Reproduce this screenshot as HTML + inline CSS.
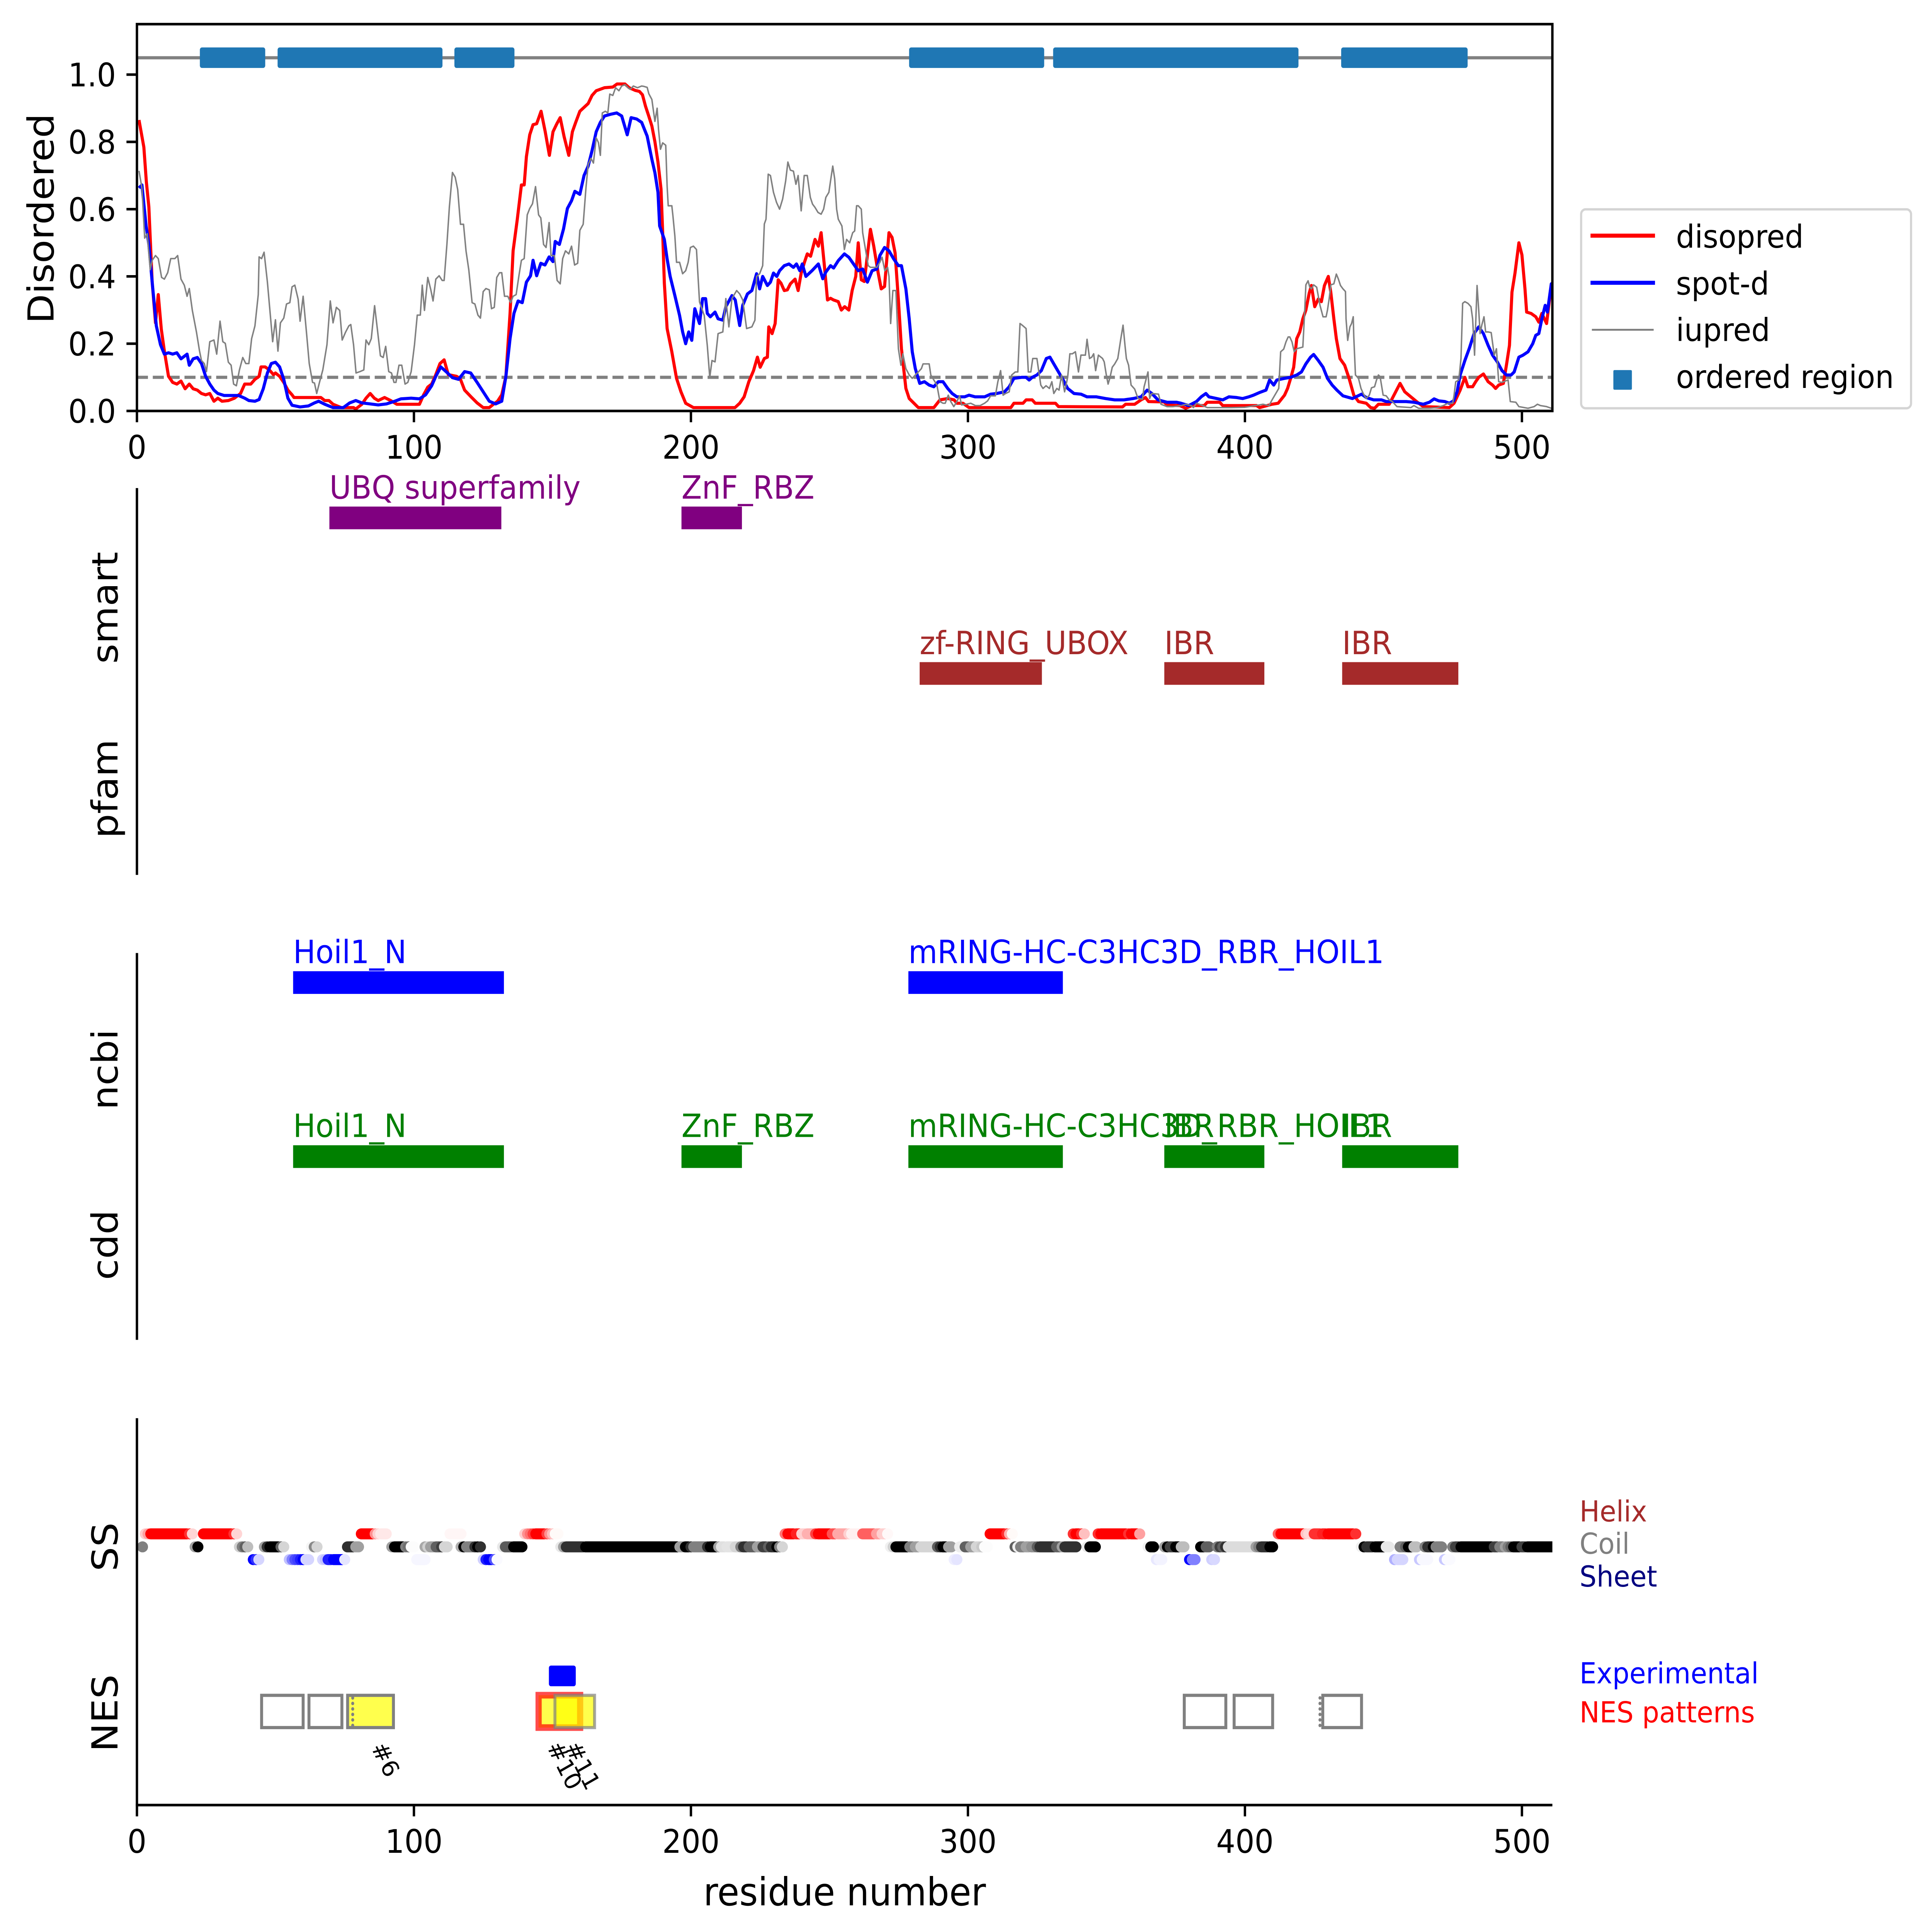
<!DOCTYPE html>
<html><head><meta charset="utf-8"><style>
html,body{margin:0;padding:0;background:#fff;overflow:hidden}
svg{display:block;position:absolute;left:0;top:0;width:100vw;height:100vh}
text{font-family:"DejaVu Sans","Liberation Sans",sans-serif}
.c{fill:none;vector-effect:non-scaling-stroke;stroke-linejoin:round}
.cr{stroke-width:0.1599vw}
.cg{stroke-width:0.0765vw}
.ss path{fill:none;vector-effect:non-scaling-stroke;stroke-width:0.5702vw;stroke-linecap:round}
</style></head><body>
<svg xmlns="http://www.w3.org/2000/svg" viewBox="0 0 7191 6682" preserveAspectRatio="none">
<defs>
<clipPath id="ct"><rect x="509.7" y="83.5" width="5268.3" height="1337.9"/></clipPath>
<clipPath id="cs"><rect x="509.7" y="4905" width="5268.3" height="1338"/></clipPath>
</defs>
<rect width="7191" height="6682" fill="#fff"/>

<!-- ===== TOP PANEL ===== -->
<line x1="509.7" y1="199.8" x2="5778" y2="199.8" stroke="#808080" stroke-width="11"/>
<g fill="#1f77b4">
<rect x="743.9" y="164" width="243.3" height="71" rx="8"/>
<rect x="1033.2" y="164" width="613.7" height="71" rx="8"/>
<rect x="1691.3" y="164" width="223.5" height="71" rx="8"/>
<rect x="3383.7" y="164" width="502.8" height="71" rx="8"/>
<rect x="3919.8" y="164" width="913.2" height="71" rx="8"/>
<rect x="4991.9" y="164" width="470.7" height="71" rx="8"/>
</g>
<line x1="509.7" y1="1305" x2="5778" y2="1305" stroke="#808080" stroke-width="11" stroke-dasharray="41 18"/>

<g clip-path="url(#ct)"><g transform="matrix(10.31,0,0,-1163.4,509.7,1421.4)">
<polyline class="c cr" stroke="#ff0000" points="0.74,.865 2.5,.784 3.4,.681 4.3,.607 5.5,.383 6.7,.262 7.7,.346 8.8,.243 9.9,.178 11.4,.103 12.9,.085 14.4,.08 15.9,.089 17.4,.066 18.9,.08 20.3,.066 21.8,.062 23.3,.052 24.8,.048 26.3,.052 27.8,.029 29.2,.038 30.7,.029 33,.031 35.2,.038 37.4,.052 38.9,.08 41.1,.08 42.6,.094 44.1,.103 44.8,.131 46.3,.131 47.8,.122 49.3,.108 50,.113 51.5,.103 53,.085 54.5,.062 56,.048 56.7,.04 66.4,.04 67.8,.031 69.3,.031 70.8,.02 73.8,.01 78.2,.01 79,.006 81.2,.02 82.7,.038 84.2,.052 85.7,.038 87.1,.031 89.4,.04 91.6,.031 93.8,.02 102,.02 103.5,.048 105,.071 106.4,.08 107.9,.108 109.4,.141 110.9,.152 112.4,.108 115.4,.103 116.8,.094 118.3,.062 120.5,.043 122.8,.024 125,.01 127.2,.01 128.7,.02 130.2,.029 131.7,.048 133.2,.103 134.7,.29 135.8,.476 137.3,.569 138.8,.672 139.8,.672 140.6,.756 141.8,.821 143,.851 144.3,.854 145.9,.891 147.4,.83 148.9,.76 150.2,.83 151.6,.854 152.8,.872 154.2,.816 155.9,.76 157.2,.83 158.4,.858 159.9,.891 162.9,.914 164.3,.938 165.8,.952 168.8,.961 171.8,.963 173.3,.972 176.2,.972 177.7,.961 179.9,.953 181.4,.95 182.5,.94 183.6,.906 184.8,.876 185.9,.847 187,.8 188.1,.74 189.2,.66 189.8,.53 190.4,.38 191.4,.245 193.1,.176 194.8,.097 196.4,.057 198.1,.023 200.9,.01 215.9,.01 217.6,.023 219.2,.042 220.9,.087 222.6,.12 224,.16 225,.13 226.5,.156 227.6,.16 228.1,.25 229.3,.23 230.4,.26 231.5,.39 232.5,.38 233.7,.358 234.8,.36 235.9,.378 237.6,.392 238.7,.358 239.8,.41 240.9,.44 242,.467 243.2,.46 244.8,.51 246,.49 247,.53 248.2,.43 249.3,.33 250.4,.335 251.5,.33 253.2,.325 254.3,.3 255.5,.31 257,.3 258.2,.358 259.5,.4 260.4,.5 261.5,.39 262.6,.385 264.8,.54 266,.49 267.6,.41 268.7,.363 269.9,.37 271.5,.53 272.6,.516 273.7,.47 274.9,.33 276,.185 277.6,.067 278.8,.037 282.1,.01 287.7,.01 289.9,.033 292.7,.037 295,.033 296,.023 298.2,.023 300.4,.01 315.5,.01 316.6,.023 319.9,.023 321,.033 323.2,.033 324.3,.023 331.6,.023 332.7,.013 355.8,.012 356.9,.02 360.2,.02 362.5,.033 364.1,.04 365.2,.028 370.8,.027 372,.017 376.5,.016 378.6,.008 380.8,.016 385.3,.016 386.4,.026 390.9,.026 392,.016 404.2,.016 405.3,.01 409.8,.02 412,.023 414.3,.047 415.4,.067 416.5,.097 417.6,.13 418.7,.215 419.8,.235 420.9,.274 422,.3 423.2,.35 424,.373 425.2,.31 426.5,.333 427.6,.325 428.7,.373 430.1,.4 431,.353 432.1,.274 433,.215 434.3,.156 436,.136 437.6,.097 439.3,.047 441,.028 443.8,.023 445.4,.01 446.8,.008 448.2,.02 452.1,.02 453.8,.047 456,.082 457.7,.057 459.9,.042 462.1,.027 464.4,.013 473.8,.01 475.5,.023 477.7,.062 479.4,.1 480.5,.072 482.2,.072 483.3,.087 484.4,.1 486.1,.11 487.8,.087 489.4,.077 490.5,.067 491.6,.077 493.3,.082 494.4,.136 495.5,.195 496.4,.353 497.5,.41 498.9,.5 500,.464 501.1,.363 501.7,.294 503.3,.29 505,.28 506.1,.264 507.2,.29 508.9,.26 510.6,.373 511,.38"/>
<polyline class="c cr" stroke="#0000ff" points="0.74,.663 1.8,.672 3.3,.551 4.3,.495 5.5,.383 7,.253 8.5,.197 9.9,.169 11.4,.173 12.9,.169 14.4,.173 15.9,.155 18.1,.169 18.9,.136 20.3,.155 21.8,.159 23.3,.141 24.8,.103 26.3,.08 27.8,.062 29.2,.052 31.5,.046 36.7,.046 38.9,.038 40.4,.031 42.6,.029 44.1,.034 45.6,.066 47.1,.113 48.5,.141 50,.145 51.5,.131 53,.094 54.5,.038 56,.017 58.9,.012 61.9,.015 64.1,.024 65.6,.029 67.8,.02 70.8,.01 74.5,.01 76.8,.024 79,.031 81.2,.024 84.2,.021 87.1,.018 90.1,.021 93.1,.029 95.3,.036 99,.038 102,.036 104.2,.048 106.4,.075 107.9,.103 109.7,.131 111.6,.117 113.9,.099 116.1,.094 118.3,.117 120.5,.113 122.8,.085 125,.057 127.2,.029 129.5,.021 131.7,.029 133.2,.103 134.7,.215 136.1,.29 137.6,.327 139.1,.322 140.6,.383 142.1,.402 143,.448 144.3,.402 145.8,.439 147.3,.434 148.8,.458 150.2,.444 151,.504 152.5,.495 154,.541 155.4,.602 156.9,.625 158.1,.653 159.9,.644 161.4,.7 162.9,.728 164.3,.774 165.8,.83 167.3,.858 168.8,.877 171,.882 173.2,.886 175,.877 177,.821 178.4,.872 180.4,.868 182.2,.858 184.2,.817 185.9,.748 187,.708 188.1,.65 188.7,.55 190.4,.51 191.4,.452 192.5,.4 194.2,.343 195.9,.284 197,.235 198.1,.2 199.2,.235 200.3,.21 201.4,.304 203.1,.26 204.2,.334 205.3,.334 205.9,.29 207,.28 208.7,.294 209.8,.274 211.5,.27 212.6,.31 214.8,.343 216,.33 217.6,.254 218.7,.314 220.4,.348 222,.358 223.7,.408 224.8,.363 225.9,.4 227.6,.373 228.7,.383 229.8,.41 231,.4 232,.417 233.7,.432 235.4,.437 237,.427 238.1,.437 239.3,.417 240.2,.437 241.5,.4 243.7,.417 246,.437 247.6,.393 248.7,.413 250.4,.432 251.5,.425 253.2,.447 255.4,.467 257,.457 258.7,.437 260.4,.417 262,.422 263.7,.383 265.4,.417 267.1,.422 268.2,.462 269.9,.486 271.5,.476 273.2,.452 274.9,.432 276,.432 277.6,.363 278.8,.274 279.9,.176 281,.126 282.6,.082 284.3,.087 286,.077 287.7,.072 289.3,.087 291,.087 292.7,.067 294.3,.052 296,.042 298.8,.042 300.4,.047 302.6,.042 306,.042 308.2,.05 310.4,.052 313.2,.057 314.9,.072 316.6,.097 319.4,.1 321,.1 322.1,.092 323.2,.1 324.9,.107 326.5,.12 328.3,.156 329.6,.16 331,.14 332.7,.116 334.4,.092 336,.067 338.3,.052 340.8,.05 343,.042 346.4,.042 349.7,.037 353,.033 356.3,.033 359.7,.037 362.5,.042 363.6,.052 364.7,.062 366.4,.052 368.6,.033 371.9,.026 375.3,.026 376.9,.023 379.7,.016 382.5,.028 384.2,.042 385.9,.052 387,.042 389.8,.037 392,.033 394.2,.042 397,.04 399.2,.037 401.4,.042 403.1,.047 405.3,.055 407.6,.062 408.9,.092 410.4,.077 411.5,.092 414.3,.097 416.5,.1 418.7,.107 420.4,.116 422,.14 423.7,.16 424.8,.168 426.5,.15 428.2,.13 429.8,.097 431.5,.077 433.2,.062 435.4,.045 438.8,.037 442.1,.05 443.8,.04 446.5,.033 449.3,.033 451,.028 458.2,.028 461,.026 464.4,.02 466.6,.026 468.3,.036 470,.03 472.2,.028 473.8,.023 475.3,.03 476.6,.057 477.7,.107 479.4,.15 481,.186 482.7,.23 484.4,.25 486.1,.23 487.8,.195 489.4,.166 491.1,.146 492.8,.12 494.4,.107 496.1,.107 497.2,.116 498.9,.16 500.4,.166 502.2,.176 503.9,.2 505,.225 506.1,.23 507.2,.274 508.4,.314 509.2,.294 510.6,.378 511,.38"/>
<polyline class="c cg" stroke="#808080" points="0.74,.714 1.8,.663 2.8,.514 3.7,.527 4.8,.42 5.5,.448 6.7,.462 7.7,.453 8.9,.397 9.9,.392 11.1,.411 12.2,.453 13.7,.453 14.7,.462 15.9,.392 17.1,.374 18.1,.341 18.9,.364 20,.299 21.5,.234 22.6,.178 23.3,.15 24.3,.141 25.1,.117 26.3,.206 27.8,.211 28.8,.169 30,.267 31,.206 31.9,.201 33,.145 34,.136 34.9,.08 35.9,.075 37,.122 38.2,.159 39.3,.141 40.4,.141 41.4,.215 42.6,.253 43.8,.346 44.1,.458 45,.453 45.9,.472 47.1,.383 48.1,.29 49,.206 50,.271 50.9,.178 51.8,.262 53,.276 54,.318 55.2,.322 56,.369 57,.374 58.2,.332 58.9,.267 60,.341 61.2,.234 62.2,.141 63.4,.085 64.1,.083 64.9,.052 65.9,.085 67.1,.122 68.6,.197 69.8,.327 70.8,.262 72,.308 73.2,.299 74.1,.211 75.3,.234 76.5,.253 77.2,.257 78.2,.197 79.1,.113 80.5,.117 81.9,.122 82.7,.211 83.7,.197 84.6,.215 85.8,.313 86.8,.243 87.9,.164 88.9,.159 89.8,.192 90.9,.117 91.9,.113 92.8,.085 93.5,.085 94.6,.136 95.6,.136 96.8,.08 97.8,.085 99,.117 100.2,.197 101.2,.285 102.3,.285 103,.374 103.8,.299 105,.397 106.1,.36 106.9,.327 107.9,.392 109.1,.402 110.2,.388 110.9,.388 111.9,.495 112.8,.607 113.9,.709 114.9,.695 115.8,.658 116.8,.555 117.9,.555 118.8,.476 119.8,.42 121,.322 122,.318 123.1,.285 124,.276 125,.355 126,.364 127.2,.36 128,.304 129,.308 129.9,.397 130.9,.411 131.7,.411 132.7,.341 133.9,.341 134.9,.322 135.8,.341 136.9,.346 137.9,.402 138.8,.448 139.8,.453 140.9,.583 141.8,.602 142.8,.616 143.9,.667 145,.583 145.8,.574 146.8,.495 147.7,.486 148.8,.56 149.5,.462 150.7,.462 151.7,.388 152.8,.378 153.7,.453 154.7,.476 155.9,.467 156.9,.49 158,.434 159.1,.439 159.9,.537 161.1,.555 162.1,.663 162.9,.733 163.9,.751 164.8,.737 165.8,.812 166.6,.798 167.3,.76 168,.886 169.1,.891 170,.886 170.7,.942 171.8,.938 172.8,.961 174,.952 175,.966 176.2,.97 177.3,.961 178.1,.956 179.2,.966 180.7,.961 182.2,.966 183,.965 184.2,.962 184.8,.943 185.9,.926 186.4,.896 187,.861 187.8,.9 188.3,.837 189,.778 189.8,.797 190.9,.79 191.4,.669 191.8,.61 193.1,.61 193.5,.58 194.2,.52 194.8,.442 195.9,.442 197,.408 198.1,.417 199,.442 199.8,.486 200.9,.49 202,.48 203.1,.324 204.8,.284 205.9,.195 206.8,.1 207.6,.15 208.7,.146 209.8,.23 211.5,.235 212.6,.334 213.7,.25 214.8,.334 216.5,.358 217.6,.348 218.7,.33 220.1,.245 222,.25 223.1,.27 223.7,.4 224.8,.408 225.9,.432 226.5,.556 227.1,.57 227.9,.704 228.7,.7 229.8,.65 230.9,.62 232,.6 233.1,.63 234.2,.684 235,.74 235.9,.716 237,.713 237.9,.674 238.7,.7 239.8,.595 240.9,.7 242,.7 243.1,.635 243.9,.615 244.8,.605 245.9,.59 247,.585 247.9,.6 248.7,.635 249.8,.65 250.4,.684 251.2,.728 251.9,.69 252.6,.6 253.2,.57 254.5,.55 255.4,.48 256.2,.51 257.3,.5 258.4,.53 259.1,.535 259.8,.61 260.4,.61 261.5,.6 262,.53 263.1,.476 264,.432 264.8,.427 267.1,.427 268.2,.442 269,.457 270,.417 271,.427 271.5,.4 272.1,.26 272.9,.358 274,.358 274.9,.185 275.8,.136 276.5,.17 277.6,.126 278.8,.107 279.9,.097 281,.107 282.1,.116 283.2,.126 283.8,.14 286,.14 286.6,.107 287.7,.092 288.8,.077 289.9,.028 291,.023 291.8,.023 292.9,.047 293.8,.028 294.9,.013 296,.028 297,.045 297.7,.018 299.3,.02 301,.023 302.7,.016 304.4,.016 306,.023 307.1,.03 308.2,.045 309.9,.045 310.8,.087 311.8,.12 312.7,.047 313.6,.052 314.9,.057 315.8,.107 317.1,.116 318,.116 318.8,.26 319.6,.255 321,.245 321.8,.116 322.7,.116 323.4,.156 324.9,.156 326.3,.077 327.1,.067 328.2,.075 329.4,.067 330.3,.087 331,.052 332.1,.067 332.9,.062 333.8,.107 334.9,.057 336,.1 336.8,.17 337.7,.17 338.8,.176 339.9,.116 340.8,.166 342.4,.166 343,.213 343.9,.156 344.7,.16 345.4,.17 346.1,.12 347.1,.166 348.6,.156 349.2,.146 349.9,.11 350.6,.08 351.3,.1 352.1,.13 353,.14 354.1,.156 355.2,.215 356,.255 356.7,.195 357.2,.156 358,.136 358.9,.077 360.2,.065 361.4,.037 363,.035 363.6,.072 364.4,.097 365,.116 365.6,.037 366.4,.052 368.8,.05 369.7,.02 371.9,.013 374.1,.013 377,.016 378.6,.02 380.6,.016 381.4,.01 382.5,.023 384.2,.018 386.4,.01 395,.01 400,.011 405.3,.018 406.5,.02 408.7,.016 409.8,.033 411.5,.057 412.2,.067 412.9,.176 414,.184 414.8,.205 415.6,.22 416.2,.22 417,.205 417.8,.176 418.7,.185 420.9,.19 421.5,.284 422,.375 422.8,.387 423.4,.368 424,.363 424.8,.375 425.9,.368 427.1,.314 428.2,.28 429.3,.28 429.8,.3 430.4,.333 431,.375 432.1,.378 433,.407 433.7,.393 434.5,.373 435.4,.363 436.3,.355 436.5,.274 437.1,.21 437.9,.25 438.5,.26 439.1,.28 439.3,.22 439.9,.107 441,.097 441.9,.067 442.7,.052 443.8,.037 444.9,.047 445.7,.069 446.8,.072 447.5,.092 448.2,.107 448.8,.102 449.9,.047 451,.045 452.1,.033 453.2,.028 454.9,.013 459.9,.01 461,.016 462.7,.008 466.6,.008 469.4,.01 471.6,.016 473.3,.023 475,.023 475.5,.047 476.1,.087 477.2,.092 478,.156 478.6,.32 479.4,.325 480.5,.32 481.6,.31 482.2,.274 482.9,.166 483.8,.373 484.4,.3 484.9,.23 485.5,.255 486.3,.28 486.9,.235 487.8,.235 488.9,.233 490,.166 490.8,.185 491.6,.087 492.7,.085 495,.092 495.8,.028 497.8,.026 498.9,.013 502.2,.008 504.4,.013 505.6,.02 506.7,.016 508.9,.013 510.6,.008"/>
</g></g>

<rect x="509.7" y="83.5" width="5268.3" height="1337.9" fill="none" stroke="#000" stroke-width="8.9"/>
<g stroke="#000" stroke-width="8.9">
<path d="M509.7 1421.4v39M1540.7 1421.4v39M2571.7 1421.4v39M3602.7 1421.4v39M4633.7 1421.4v39M5664.7 1421.4v39"/>
<path d="M509.7 1421.4h-39M509.7 1188.7h-39M509.7 956h-39M509.7 723.4h-39M509.7 490.7h-39M509.7 258h-39"/>
</g>
<g font-size="112" text-anchor="middle" fill="#000">
<text x="509.7" y="1586">0</text><text x="1540.7" y="1586">100</text><text x="2571.7" y="1586">200</text><text x="3602.7" y="1586">300</text><text x="4633.7" y="1586">400</text><text x="5664.7" y="1586">500</text>
</g>
<g font-size="112" text-anchor="end" fill="#000">
<text x="431.7" y="1462.2">0.0</text><text x="431.7" y="1229.5">0.2</text><text x="431.7" y="996.8">0.4</text><text x="431.7" y="764.2">0.6</text><text x="431.7" y="531.5">0.8</text><text x="431.7" y="298.8">1.0</text>
</g>
<text transform="translate(199,756) rotate(-90)" font-size="133" text-anchor="middle">Disordered</text>

<!-- legend -->
<rect x="5885" y="724" width="1228" height="688" rx="17" fill="#fff" stroke="#d4d4d4" stroke-width="8"/>
<line x1="5920" y1="815" x2="6160" y2="815" stroke="#ff0000" stroke-width="14"/>
<line x1="5920" y1="978" x2="6160" y2="978" stroke="#0000ff" stroke-width="14"/>
<line x1="5925" y1="1140.6" x2="6155" y2="1140.6" stroke="#808080" stroke-width="6.5"/>
<rect x="6005" y="1280" width="69" height="68" rx="4" fill="#1f77b4"/>
<g font-size="110" fill="#000">
<text x="6238" y="856.5">disopred</text>
<text x="6238" y="1019">spot-d</text>
<text x="6238" y="1179.6">iupred</text>
<text x="6238" y="1342">ordered region</text>
</g>

<!-- ===== PANEL 2 (smart / pfam) ===== -->
<line x1="509.7" y1="1688" x2="509.7" y2="3026" stroke="#000" stroke-width="8.9"/>
<text transform="translate(437.5,2102) rotate(-90)" font-size="133" text-anchor="middle">smart</text>
<text transform="translate(437.5,2728) rotate(-90)" font-size="133" text-anchor="middle">pfam</text>
<g fill="#800080">
<rect x="1226" y="1752" width="640" height="78.5"/>
<rect x="2536.5" y="1752" width="225" height="78.5"/>
<text x="1226" y="1724.5" font-size="111">UBQ superfamily</text>
<text x="2536.5" y="1724.5" font-size="111">ZnF_RBZ</text>
</g>
<g fill="#a52a2a">
<rect x="3423" y="2290" width="455" height="78.5"/>
<rect x="4333.6" y="2290" width="372.4" height="78.5"/>
<rect x="4995.6" y="2290" width="432.4" height="78.5"/>
<text x="3423" y="2262.5" font-size="111">zf-RING_UBOX</text>
<text x="4333.6" y="2262.5" font-size="111">IBR</text>
<text x="4995.6" y="2262.5" font-size="111">IBR</text>
</g>

<!-- ===== PANEL 3 (ncbi / cdd) ===== -->
<line x1="509.7" y1="3296" x2="509.7" y2="4634" stroke="#000" stroke-width="8.9"/>
<text transform="translate(437.5,3699) rotate(-90)" font-size="133" text-anchor="middle">ncbi</text>
<text transform="translate(437.5,4306) rotate(-90)" font-size="133" text-anchor="middle">cdd</text>
<g fill="#0000ff">
<rect x="1091" y="3359" width="784.6" height="78.5"/>
<rect x="3381" y="3359" width="575" height="78.5"/>
<text x="1091" y="3331" font-size="111">Hoil1_N</text>
<text x="3381" y="3331" font-size="111">mRING-HC-C3HC3D_RBR_HOIL1</text>
</g>
<g fill="#008000">
<rect x="1091" y="3961" width="784.6" height="78.5"/>
<rect x="2536.5" y="3961" width="225" height="78.5"/>
<rect x="3381" y="3961" width="575" height="78.5"/>
<rect x="4333.6" y="3961" width="372.4" height="78.5"/>
<rect x="4995.6" y="3961" width="432.4" height="78.5"/>
<text x="1091" y="3932.5" font-size="111">Hoil1_N</text>
<text x="2536.5" y="3932.5" font-size="111">ZnF_RBZ</text>
<text x="3381" y="3932.5" font-size="111">mRING-HC-C3HC3D_RBR_HOIL1</text>
<text x="4333.6" y="3932.5" font-size="111">IBR</text>
<text x="4995.6" y="3932.5" font-size="111">IBR</text>
</g>

<!-- ===== PANEL 4 (SS / NES) ===== -->
<g clip-path="url(#cs)"><g class="ss" transform="matrix(10.31,0,0,1,509.7,0)">
<!-- helix -->
<path stroke="#ffcccc" d="M3 5305h.02"/><path stroke="#ffa0a0" d="M4 5305h.02"/><path stroke="#ff0000" d="M5 5305H18"/><path stroke="#ff3030" d="M19 5305h.02"/><path stroke="#ffd5d5" d="M20 5305h.02"/>
<path stroke="#ff0000" d="M24 5305H34"/><path stroke="#ff3030" d="M35 5305h.02"/><path stroke="#ffd5d5" d="M36 5305h.02"/>
<path stroke="#ff0000" d="M81 5305H85"/><path stroke="#ff9090" d="M86 5305h.02"/><path stroke="#ffd0d0" d="M87 5305h.02"/><path stroke="#ffe8e8" d="M88 5305H90"/>
<path stroke="#fff6f6" d="M113 5305H117"/>
<path stroke="#ffd0d0" d="M140 5305h.02"/><path stroke="#ff9090" d="M141 5305h.02"/><path stroke="#ff7070" d="M142 5305h.02"/><path stroke="#ff4040" d="M143 5305h.02"/><path stroke="#ff0000" d="M144 5305H147"/><path stroke="#ff4040" d="M148 5305h.02"/><path stroke="#ff9090" d="M149 5305h.02"/><path stroke="#ffc0c0" d="M150 5305h.02"/><path stroke="#fffaf8" d="M151 5305H152"/>
<path stroke="#ff7070" d="M234 5305h.02"/><path stroke="#ff0000" d="M235 5305H237"/><path stroke="#ff2020" d="M238 5305H239"/><path stroke="#ffd0d0" d="M240 5305H241"/><path stroke="#ffb0b0" d="M242 5305H244"/><path stroke="#ff4040" d="M245 5305h.02"/><path stroke="#ff0000" d="M246 5305H250"/><path stroke="#ff5050" d="M251 5305H252"/><path stroke="#ffa8a8" d="M253 5305H256"/><path stroke="#ffd0d0" d="M257 5305h.02"/><path stroke="#fff0f0" d="M258 5305H261"/><path stroke="#ff6060" d="M262 5305H266"/><path stroke="#ffa0a0" d="M267 5305H268"/><path stroke="#ffd0d0" d="M269 5305H270"/><path stroke="#fff8f8" d="M271 5305h.02"/>
<path stroke="#ff0000" d="M308 5305H313"/><path stroke="#ff3030" d="M314 5305h.02"/><path stroke="#ffb0b0" d="M315 5305h.02"/><path stroke="#fffaf8" d="M316 5305h.02"/>
<path stroke="#ff3030" d="M338 5305h.02"/><path stroke="#ff0000" d="M339 5305H340"/><path stroke="#ff3030" d="M341 5305h.02"/><path stroke="#ffc0c0" d="M342 5305h.02"/>
<path stroke="#ff3030" d="M347 5305h.02"/><path stroke="#ff0000" d="M348 5305H357"/><path stroke="#ff3030" d="M358 5305h.02"/><path stroke="#ff0000" d="M359 5305H361"/><path stroke="#ffa0a0" d="M362 5305h.02"/>
<path stroke="#ff6060" d="M412 5305h.02"/><path stroke="#ff0000" d="M413 5305H421"/><path stroke="#ffc0c0" d="M422 5305h.02"/><path stroke="#ffd5d5" d="M423 5305H424"/><path stroke="#ff3030" d="M425 5305H427"/><path stroke="#ff2020" d="M428 5305H429"/><path stroke="#ff0000" d="M430 5305H439"/><path stroke="#ff3030" d="M440 5305h.02"/>
<!-- coil -->
<path stroke="#808080" d="M2 5350h.02"/>
<path stroke="#a0a0a0" d="M21 5350h.02"/><path stroke="#000" d="M22 5350h.02"/>
<path stroke="#d0d0d0" d="M37 5350h.02"/><path stroke="#808080" d="M38 5350h.02"/><path stroke="#606060" d="M39 5350h.02"/><path stroke="#bdbdbd" d="M40 5350h.02"/>
<path stroke="#a0a0a0" d="M46 5350h.02"/><path stroke="#303030" d="M47 5350h.02"/><path stroke="#000" d="M48 5350H51"/><path stroke="#606060" d="M52 5350h.02"/><path stroke="#d5d5d5" d="M53 5350h.02"/>
<path stroke="#f5f5f5" d="M63 5350h.02"/><path stroke="#888888" d="M64 5350h.02"/><path stroke="#d5d5d5" d="M65 5350h.02"/>
<path stroke="#303030" d="M76 5350H78"/><path stroke="#a0a0a0" d="M79 5350H80"/>
<path stroke="#a0a0a0" d="M92 5350h.02"/><path stroke="#000" d="M93 5350H96"/><path stroke="#808080" d="M97 5350h.02"/><path stroke="#707070" d="M98 5350h.02"/><path stroke="#fcfcfc" d="M99 5350H100"/>
<path stroke="#a8a8a8" d="M104 5350h.02"/><path stroke="#d0d0d0" d="M105 5350h.02"/><path stroke="#a0a0a0" d="M106 5350H107"/><path stroke="#606060" d="M108 5350H109"/><path stroke="#404040" d="M110 5350h.02"/><path stroke="#d5d5d5" d="M111 5350H112"/>
<path stroke="#b0b0b0" d="M117 5350h.02"/><path stroke="#000" d="M118 5350h.02"/><path stroke="#808080" d="M119 5350H121"/><path stroke="#303030" d="M122 5350h.02"/><path stroke="#000" d="M123 5350h.02"/><path stroke="#303030" d="M124 5350h.02"/>
<path stroke="#e8e8e8" d="M132 5350h.02"/><path stroke="#5a5a5a" d="M133 5350H135"/><path stroke="#000" d="M136 5350H139"/>
<path stroke="#e8e8e8" d="M153 5350h.02"/><path stroke="#a0a0a0" d="M154 5350h.02"/><path stroke="#303030" d="M155 5350H161"/><path stroke="#000" d="M162 5350H195"/>
<path stroke="#a0a0a0" d="M196 5350H197"/><path stroke="#000" d="M198 5350H199"/><path stroke="#303030" d="M200 5350h.02"/><path stroke="#808080" d="M201 5350H205"/><path stroke="#303030" d="M206 5350h.02"/><path stroke="#000" d="M207 5350H209"/><path stroke="#a0a0a0" d="M210 5350h.02"/><path stroke="#e0e0e0" d="M211 5350H212"/><path stroke="#e4e4e4" d="M213 5350H215"/><path stroke="#d5d5d5" d="M216 5350H217"/><path stroke="#808080" d="M218 5350h.02"/><path stroke="#303030" d="M219 5350H220"/><path stroke="#606060" d="M221 5350H223"/><path stroke="#a0a0a0" d="M224 5350H225"/><path stroke="#404040" d="M226 5350H227"/><path stroke="#606060" d="M228 5350h.02"/><path stroke="#303030" d="M229 5350H230"/><path stroke="#000" d="M231 5350h.02"/><path stroke="#808080" d="M232 5350h.02"/><path stroke="#d5d5d5" d="M233 5350h.02"/>
<path stroke="#f0f0f0" d="M272 5350h.02"/><path stroke="#d0d0d0" d="M273 5350h.02"/><path stroke="#000" d="M274 5350H278"/><path stroke="#808080" d="M279 5350H280"/><path stroke="#a0a0a0" d="M281 5350H282"/><path stroke="#d5d5d5" d="M283 5350H288"/><path stroke="#606060" d="M289 5350h.02"/><path stroke="#303030" d="M290 5350h.02"/><path stroke="#000" d="M291 5350H292"/><path stroke="#a0a0a0" d="M293 5350H294"/>
<path stroke="#eeeeee" d="M297 5350H298"/><path stroke="#606060" d="M299 5350H300"/><path stroke="#a0a0a0" d="M301 5350H302"/><path stroke="#d5d5d5" d="M303 5350H304"/><path stroke="#c8c8c8" d="M305 5350h.02"/><path stroke="#fcfcfc" d="M306 5350H307"/>
<path stroke="#606060" d="M317 5350h.02"/><path stroke="#f0f0f0" d="M318 5350h.02"/><path stroke="#808080" d="M319 5350H320"/><path stroke="#a0a0a0" d="M321 5350H322"/><path stroke="#909090" d="M323 5350H324"/><path stroke="#606060" d="M325 5350h.02"/><path stroke="#303030" d="M326 5350H331"/><path stroke="#606060" d="M332 5350H333"/><path stroke="#a0a0a0" d="M334 5350h.02"/><path stroke="#303030" d="M335 5350H339"/>
<path stroke="#e8e8e8" d="M343 5350h.02"/><path stroke="#000" d="M344 5350H346"/>
<path stroke="#f0f0f0" d="M365 5350h.02"/><path stroke="#000" d="M366 5350H367"/>
<path stroke="#a0a0a0" d="M371 5350h.02"/><path stroke="#000" d="M372 5350h.02"/><path stroke="#404040" d="M373 5350H374"/><path stroke="#000" d="M375 5350H376"/><path stroke="#bdbdbd" d="M377 5350H378"/>
<path stroke="#000" d="M384 5350H385"/><path stroke="#606060" d="M386 5350H387"/>
<path stroke="#808080" d="M390 5350h.02"/><path stroke="#404040" d="M391 5350h.02"/><path stroke="#606060" d="M392 5350h.02"/><path stroke="#303030" d="M393 5350h.02"/><path stroke="#dcdcdc" d="M394 5350H403"/><path stroke="#a0a0a0" d="M404 5350h.02"/><path stroke="#808080" d="M405 5350h.02"/><path stroke="#303030" d="M406 5350H408"/><path stroke="#000" d="M409 5350H410"/>
<path stroke="#f0f0f0" d="M442 5350h.02"/><path stroke="#000" d="M443 5350h.02"/><path stroke="#303030" d="M444 5350H446"/><path stroke="#000" d="M447 5350H450"/><path stroke="#e8e8e8" d="M451 5350H452"/>
<path stroke="#808080" d="M456 5350H457"/><path stroke="#606060" d="M458 5350h.02"/><path stroke="#000" d="M459 5350H460"/><path stroke="#bdbdbd" d="M461 5350H462"/>
<path stroke="#808080" d="M465 5350h.02"/><path stroke="#303030" d="M466 5350H467"/><path stroke="#000" d="M468 5350h.02"/><path stroke="#808080" d="M469 5350H471"/>
<path stroke="#808080" d="M475 5350h.02"/><path stroke="#404040" d="M476 5350H477"/><path stroke="#000" d="M478 5350H489"/><path stroke="#404040" d="M490 5350H491"/><path stroke="#808080" d="M492 5350H493"/><path stroke="#a0a0a0" d="M494 5350h.02"/><path stroke="#808080" d="M495 5350h.02"/><path stroke="#606060" d="M496 5350h.02"/><path stroke="#000" d="M497 5350H499"/><path stroke="#404040" d="M500 5350H501"/><path stroke="#000" d="M502 5350H511"/>
<!-- sheet -->
<path stroke="#0000ff" d="M42 5394h.02"/><path stroke="#3030ff" d="M43 5394h.02"/><path stroke="#d5d5ff" d="M44 5394h.02"/>
<path stroke="#c0c0ff" d="M55 5394h.02"/><path stroke="#8080ff" d="M56 5394h.02"/><path stroke="#5050ff" d="M57 5394h.02"/><path stroke="#4040ff" d="M58 5394h.02"/><path stroke="#2020ff" d="M59 5394h.02"/><path stroke="#0000ff" d="M60 5394h.02"/><path stroke="#d5d5ff" d="M61 5394H62"/>
<path stroke="#d5d5ff" d="M67 5394h.02"/><path stroke="#c0c0ff" d="M68 5394h.02"/><path stroke="#2020ff" d="M69 5394H70"/><path stroke="#0000ff" d="M71 5394H74"/><path stroke="#e5e5ff" d="M75 5394h.02"/>
<path stroke="#f6f6ff" d="M101 5394H104"/>
<path stroke="#d0d0ff" d="M125 5394h.02"/><path stroke="#2020ff" d="M126 5394h.02"/><path stroke="#0000ff" d="M127 5394H128"/><path stroke="#5050ff" d="M129 5394h.02"/><path stroke="#fafaff" d="M130 5394h.02"/>
<path stroke="#eeeeff" d="M295 5394h.02"/><path stroke="#e5e5ff" d="M296 5394h.02"/>
<path stroke="#e8e8ff" d="M368 5394h.02"/><path stroke="#f3f3ff" d="M369 5394H370"/>
<path stroke="#0000ff" d="M380 5394h.02"/><path stroke="#8080ff" d="M381 5394H382"/>
<path stroke="#d0d0ff" d="M388 5394h.02"/><path stroke="#d8d8ff" d="M389 5394h.02"/>
<path stroke="#b0b0ff" d="M454 5394h.02"/><path stroke="#d5d5ff" d="M455 5394H457"/>
<path stroke="#c8c8ff" d="M463 5394h.02"/><path stroke="#f8f8ff" d="M464 5394H466"/>
<path stroke="#c8c8ff" d="M472 5394h.02"/><path stroke="#fafaff" d="M473 5394H474"/>
</g></g>

<!-- NES boxes -->
<g fill="none" stroke="#808080" stroke-width="11">
<rect x="973.7" y="5863.5" width="154.6" height="111.5" fill="#fff"/>
<rect x="1150" y="5863.5" width="122.6" height="111.5" fill="#fff"/>
<rect x="1293.8" y="5863.5" width="170.6" height="111.5" fill="#ffff4d"/>
<rect x="4407.9" y="5863.5" width="154.7" height="111.5"/>
<rect x="4593.5" y="5863.5" width="143.3" height="111.5"/>
<rect x="4923.4" y="5863.5" width="144.3" height="111.5"/>
</g>
<g stroke="#808080" stroke-width="11" stroke-linecap="round" stroke-dasharray="1 18">
<line x1="1312.8" y1="5872" x2="1312.8" y2="5968"/>
<line x1="4913" y1="5872" x2="4913" y2="5968"/>
</g>
<rect x="2004.7" y="5863" width="154.6" height="112" fill="rgba(255,255,0,0.7)" stroke="rgba(255,0,0,0.7)" stroke-width="23"/>
<rect x="2065.5" y="5863.5" width="147.5" height="111.5" fill="rgba(255,255,0,0.7)" stroke="rgba(128,128,128,0.7)" stroke-width="11"/>
<rect x="2043" y="5760.5" width="100" height="71.5" rx="8" fill="#0000ff"/>
<g font-size="84" fill="#000">
<text transform="translate(1380,6044) rotate(62)">#6</text>
<text transform="translate(2034,6041) rotate(62)">#10</text>
<text transform="translate(2101,6041) rotate(62)">#11</text>
</g>

<line x1="509.7" y1="4905" x2="509.7" y2="6243" stroke="#000" stroke-width="8.9"/>
<line x1="505.25" y1="6243" x2="5778" y2="6243" stroke="#000" stroke-width="8.9"/>
<g stroke="#000" stroke-width="8.9">
<path d="M509.7 6243v39M1540.7 6243v39M2571.7 6243v39M3602.7 6243v39M4633.7 6243v39M5664.7 6243v39"/>
</g>
<g font-size="112" text-anchor="middle" fill="#000">
<text x="509.7" y="6408">0</text><text x="1540.7" y="6408">100</text><text x="2571.7" y="6408">200</text><text x="3602.7" y="6408">300</text><text x="4633.7" y="6408">400</text><text x="5664.7" y="6408">500</text>
</g>
<text x="3143.9" y="6590" font-size="133" text-anchor="middle">residue number</text>
<text transform="translate(437.5,5350) rotate(-90)" font-size="133" text-anchor="middle">SS</text>
<text transform="translate(437.5,5925) rotate(-90)" font-size="133" text-anchor="middle">NES</text>

<g font-size="100">
<text x="5879" y="5262" fill="#a52a2a">Helix</text>
<text x="5879" y="5374" fill="#808080">Coil</text>
<text x="5879" y="5487" fill="#000080">Sheet</text>
<text x="5879" y="5822" fill="#0000ff">Experimental</text>
<text x="5879" y="5957" fill="#ff0000">NES patterns</text>
</g>
</svg>
</body></html>
